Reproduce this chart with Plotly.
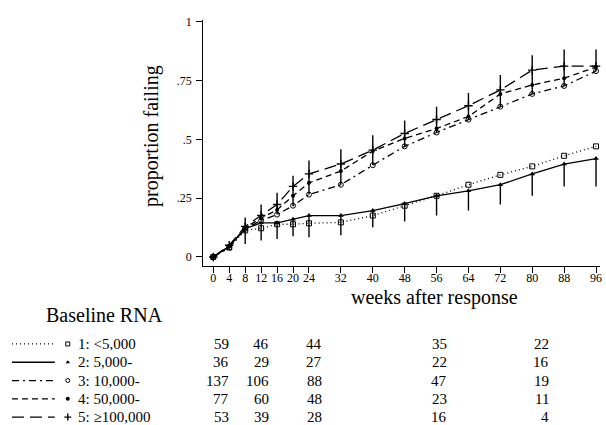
import plotly.graph_objects as go

W, H = 606, 425

# ---- data -------------------------------------------------------------
weeks = [0, 4, 8, 12, 16, 20, 24, 32, 40, 48, 56, 64, 72, 80, 88, 96]
y_tick_vals = [0, 0.25, 0.5, 0.75, 1]
y_tick_text = ["0", ".25", ".5", ".75", "1"]

group_labels = ["1: <5,000", "2: 5,000-", "3: 10,000-", "4: 50,000-", "5: \u2265100,000"]

fail_lt5k = [0, 0.040, 0.113, 0.122, 0.139, 0.139, 0.143, 0.147, 0.176, 0.218, 0.260, 0.307, 0.349, 0.385, 0.430, 0.470]
fail_5k = [0, 0.045, 0.120, 0.145, 0.145, 0.160, 0.176, 0.176, 0.197, 0.227, 0.260, 0.281, 0.307, 0.353, 0.395, 0.418]
fail_10k = [0, 0.040, 0.120, 0.155, 0.180, 0.218, 0.265, 0.307, 0.390, 0.470, 0.529, 0.584, 0.639, 0.693, 0.727, 0.790]
fail_50k = [0, 0.045, 0.125, 0.165, 0.200, 0.260, 0.315, 0.365, 0.450, 0.504, 0.546, 0.597, 0.693, 0.731, 0.760, 0.807]
fail_100k = [0, 0.050, 0.130, 0.176, 0.223, 0.300, 0.353, 0.395, 0.454, 0.525, 0.584, 0.643, 0.710, 0.794, 0.811, 0.811]

# confidence limits: upper for the >=100,000 group, lower for the 5,000- group
upper_100k = [None, None, 0.168, 0.223, 0.273, 0.345, 0.410, 0.458, 0.517, 0.580, 0.639, 0.697, 0.773, 0.857, 0.882, 0.882]
lower_5k = [None, None, 0.055, 0.070, 0.076, 0.088, 0.084, 0.092, 0.126, 0.151, 0.176, 0.197, 0.223, 0.260, 0.300, 0.300]

# numbers still at risk, by group
risk_lt5k = [59, 46, 44, 35, 22]
risk_5k = [36, 29, 27, 22, 16]
risk_10k = [137, 106, 88, 47, 19]
risk_50k = [77, 60, 48, 23, 11]
risk_100k = [53, 39, 28, 16, 4]

# ---- styling ----------------------------------------------------------
SERIF = "Liberation Serif"
INK = "black"

series = [
    (fail_lt5k, "1px,3px", dict(symbol="square-open", size=5, line=dict(width=1, color=INK))),
    (fail_5k, "solid", dict(symbol="triangle-up", size=5, line=dict(width=0))),
    (fail_10k, "7px,4px,2px,4px", dict(symbol="circle-open", size=5, line=dict(width=1, color=INK))),
    (fail_50k, "6px,4px", dict(symbol="circle", size=4, line=dict(width=0))),
    (fail_100k, "12px,6px", dict(symbol="cross-thin-open", size=6, line=dict(width=1.4, color=INK))),
]
risks = [risk_lt5k, risk_5k, risk_10k, risk_50k, risk_100k]

fig = go.Figure()

# vertical interval bars: upper cluster from the 10,000- curve to the upper limit,
# lower cluster from the 5,000- curve down to its lower limit
bx, by = [], []
for w, lo3, hi, mid2, lo in zip(weeks, fail_10k, upper_100k, fail_5k, lower_5k):
    if hi is not None:
        bx += [w, w, None]
        by += [lo3, hi, None]
    if lo is not None:
        bx += [w, w, None]
        by += [mid2, lo, None]
fig.add_trace(go.Scatter(x=bx, y=by, mode="lines", line=dict(color=INK, width=1.4),
                         hoverinfo="skip", showlegend=False))

for (vals, dash, mk), name in zip(series, group_labels):
    fig.add_trace(go.Scatter(
        x=weeks, y=vals, mode="lines+markers", name=name,
        line=dict(color=INK, width=1.3, dash=dash),
        marker=dict(color=INK, **mk), showlegend=False, cliponaxis=False,
    ))

# ---- axes -------------------------------------------------------------
x0_px, x1_px = 204, 602
y0_px, y1_px = 264, 15
fig.update_layout(
    width=W, height=H,
    margin=dict(l=0, r=0, t=0, b=0),
    paper_bgcolor="white", plot_bgcolor="rgba(0,0,0,0)",
    font=dict(family=SERIF, color=INK),
    xaxis=dict(domain=[x0_px / W, x1_px / W], range=[-2.5, 97],
               tickvals=weeks, ticktext=[str(w) for w in weeks],
               ticks="outside", ticklen=6, tickwidth=1.2, tickcolor=INK,
               showline=True, linecolor=INK, linewidth=1.3, ticklabelstandoff=-5,
               showgrid=False, zeroline=False, tickangle=0,
               tickfont=dict(size=12, family=SERIF, color=INK)),
    yaxis=dict(domain=[1 - y0_px / H, 1 - y1_px / H], range=[-0.038, 1.008],
               tickvals=y_tick_vals, ticktext=y_tick_text,
               ticks="outside", ticklen=6, tickwidth=1.2, tickcolor=INK,
               showline=True, linecolor=INK, linewidth=1.3, ticklabelstandoff=2,
               showgrid=False, zeroline=False,
               tickfont=dict(size=12, family=SERIF, color=INK)),
    # full-canvas pixel frame for the key below the plot
    xaxis2=dict(domain=[0, 1], range=[0, W], visible=False, anchor="y2"),
    yaxis2=dict(domain=[0, 1], range=[H, 0], visible=False, anchor="x2"),
    showlegend=False,
)


def label(text, px, py, size, xanchor="center", angle=0):
    return dict(text=text, x=px / W, y=1 - py / H, xref="paper", yref="paper",
                xanchor=xanchor, yanchor="middle", textangle=angle, showarrow=False,
                font=dict(size=size, family=SERIF, color=INK))


annotations = [
    label("proportion failing", 152, 132, 20, angle=-90),
    label("weeks after response", 436, 296, 20),
    label("Baseline RNA", 105, 314, 20),
]

# ---- key and at-risk table -------------------------------------------
row0, row_step = 343, 18.5
col_right = [232, 272, 325, 450, 553]
shapes = []
for i, ((vals, dash, mk), name, risk) in enumerate(zip(series, group_labels, risks)):
    ry = row0 + i * row_step
    shapes.append(dict(type="line", xref="paper", yref="paper",
                       x0=12 / W, x1=55 / W, y0=1 - ry / H, y1=1 - ry / H,
                       line=dict(color=INK, width=1.3, dash=dash)))
    fig.add_trace(go.Scatter(x=[68], y=[ry], xaxis="x2", yaxis="y2", mode="markers",
                             marker=dict(color=INK, **{**mk, "size": max(mk["size"] - 1, 4)}),
                             hoverinfo="skip", showlegend=False, cliponaxis=False))
    annotations.append(label(name, 76, ry, 15, xanchor="left"))
    for cx, n in zip(col_right, risk):
        annotations.append(label(str(n), cx, ry, 15, xanchor="right"))

fig.update_layout(annotations=annotations, shapes=shapes)
fig.write_html("out.html")
